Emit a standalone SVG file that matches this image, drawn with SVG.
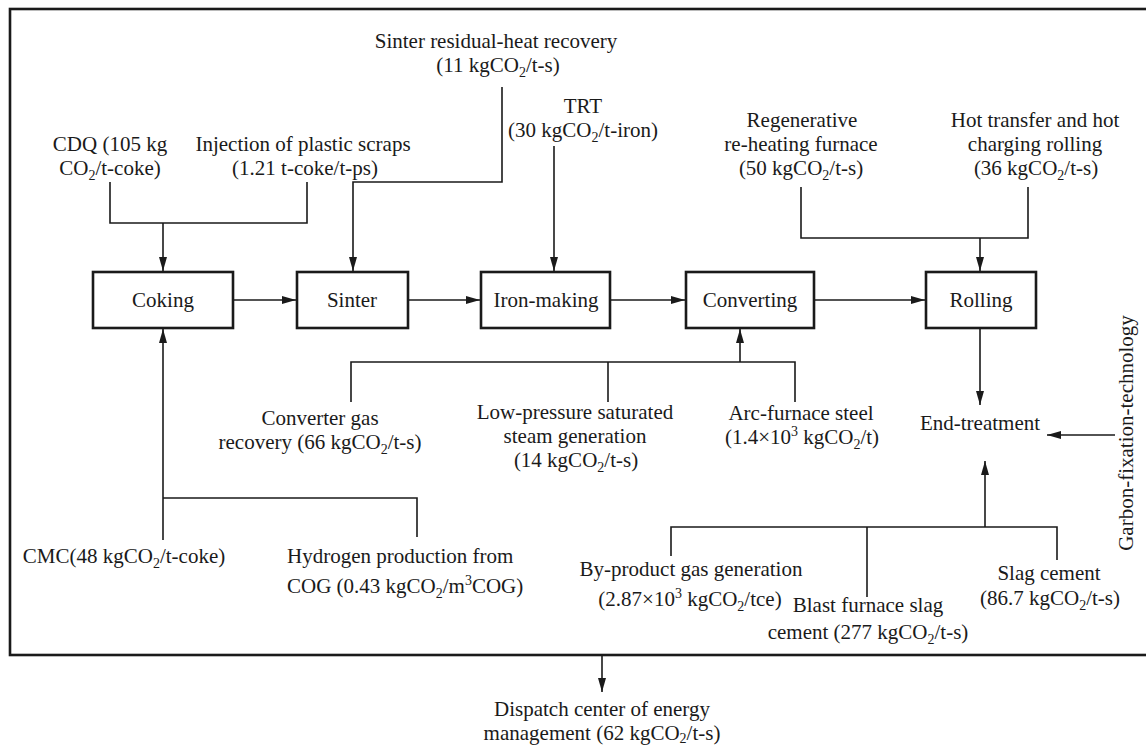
<svg xmlns="http://www.w3.org/2000/svg" width="1146" height="746" viewBox="0 0 1146 746">
<style>
text{font-family:"Liberation Serif","Times New Roman",serif;font-size:21px;fill:#1a1a1a}
.m{text-anchor:middle}
.s{font-size:14px}
.box{fill:#fff;stroke:#1a1a1a;stroke-width:2.6}
.frame{fill:none;stroke:#1a1a1a;stroke-width:2.6}
.ln{fill:none;stroke:#1a1a1a;stroke-width:1.6}
.ar{fill:none;stroke:#1a1a1a;stroke-width:1.6;marker-end:url(#ah)}
</style>
<defs>
<marker id="ah" viewBox="0 0 14 8" refX="14" refY="4" markerWidth="14" markerHeight="8" markerUnits="userSpaceOnUse" orient="auto">
<path d="M0,0 L14,4 L0,8 z" fill="#1a1a1a"/>
</marker>
</defs>
<rect width="1146" height="746" fill="#fff"/>
<rect class="frame" x="10" y="9" width="1140" height="646"/>

<g id="connectors">
<path class="ln" d="M110,182 V223 H307 V182"/>
<path class="ar" d="M163,223 V271"/>
<path class="ar" d="M502,87 V182 H353 V271"/>
<path class="ar" d="M554,146 V271"/>
<path class="ln" d="M801,187 V238 H1028 V187"/>
<path class="ar" d="M980,238 V271"/>
<path class="ar" d="M233,300 H296"/>
<path class="ar" d="M408,300 H480"/>
<path class="ar" d="M610,300 H685"/>
<path class="ar" d="M814,300 H925"/>
<path class="ln" d="M351,402 V362 H795 V402"/>
<path class="ln" d="M608,362 V402"/>
<path class="ar" d="M740,362 V329"/>
<path class="ar" d="M163,540 V329"/>
<path class="ln" d="M163,498 H417 V537"/>
<path class="ar" d="M980,328 V405"/>
<path class="ar" d="M1115,435 H1047"/>
<path class="ln" d="M671,556 V527 H1057 V560"/>
<path class="ln" d="M867,527 V597"/>
<path class="ar" d="M985,527 V461"/>
<path class="ar" d="M602,655 V692"/>
</g>

<g id="coking"><rect class="box" x="93" y="272" width="140" height="56"/><text class="m" x="163" y="307">Coking</text></g>
<g id="sinter"><rect class="box" x="297" y="272" width="111" height="56"/><text class="m" x="352" y="307">Sinter</text></g>
<g id="ironmaking"><rect class="box" x="481" y="272" width="129" height="56"/><text class="m" x="546" y="307">Iron-making</text></g>
<g id="converting"><rect class="box" x="686" y="272" width="128" height="56"/><text class="m" x="750" y="307">Converting</text></g>
<g id="rolling"><rect class="box" x="926" y="272" width="110" height="56"/><text class="m" x="981" y="307">Rolling</text></g>

<g id="cdq"><text class="m" x="110" y="151">CDQ (105 kg</text><text class="m" x="110" y="175">CO<tspan class="s" dy="5">2</tspan><tspan dy="-5">/t-coke)</tspan></text></g>
<g id="injection"><text class="m" x="303" y="151">Injection of plastic scraps</text><text class="m" x="305" y="175">(1.21 t-coke/t-ps)</text></g>
<g id="sinter-heat"><text class="m" x="496" y="48">Sinter residual-heat recovery</text><text class="m" x="498" y="72">(11 kgCO<tspan class="s" dy="5">2</tspan><tspan dy="-5">/t-s)</tspan></text></g>
<g id="trt"><text class="m" x="583" y="113">TRT</text><text class="m" x="583" y="137">(30 kgCO<tspan class="s" dy="5">2</tspan><tspan dy="-5">/t-iron)</tspan></text></g>
<g id="regen"><text class="m" x="802" y="127">Regenerative</text><text class="m" x="801" y="151">re-heating furnace</text><text class="m" x="801" y="175">(50 kgCO<tspan class="s" dy="5">2</tspan><tspan dy="-5">/t-s)</tspan></text></g>
<g id="hot-transfer"><text class="m" x="1035" y="127">Hot transfer and hot</text><text class="m" x="1035" y="151">charging rolling</text><text class="m" x="1036" y="175">(36 kgCO<tspan class="s" dy="5">2</tspan><tspan dy="-5">/t-s)</tspan></text></g>
<g id="converter-gas"><text class="m" x="320" y="425">Converter gas</text><text class="m" x="320" y="449">recovery (66 kgCO<tspan class="s" dy="5">2</tspan><tspan dy="-5">/t-s)</tspan></text></g>
<g id="low-pressure"><text class="m" x="575" y="419">Low-pressure saturated</text><text class="m" x="575" y="443">steam generation</text><text class="m" x="576" y="467">(14 kgCO<tspan class="s" dy="5">2</tspan><tspan dy="-5">/t-s)</tspan></text></g>
<g id="arc-furnace"><text class="m" x="801" y="420">Arc-furnace steel</text><text class="m" x="802" y="444">(1.4×10<tspan class="s" dy="-8">3</tspan><tspan dy="8"> kgCO</tspan><tspan class="s" dy="5">2</tspan><tspan dy="-5">/t)</tspan></text></g>
<g id="end-treatment"><text class="m" x="980" y="430">End-treatment</text></g>
<g id="garbon"><text class="m" transform="translate(1133,433) rotate(-90)">Garbon-fixation-technology</text></g>
<g id="cmc"><text class="m" x="124" y="563">CMC(48 kgCO<tspan class="s" dy="5">2</tspan><tspan dy="-5">/t-coke)</tspan></text></g>
<g id="hydrogen"><text x="287" y="563">Hydrogen production from</text><text x="287" y="593">COG (0.43 kgCO<tspan class="s" dy="5">2</tspan><tspan dy="-5">/m</tspan><tspan class="s" dy="-8">3</tspan><tspan dy="8">COG)</tspan></text></g>
<g id="by-product"><text class="m" x="691" y="576">By-product gas generation</text><text class="m" x="690" y="606">(2.87×10<tspan class="s" dy="-8">3</tspan><tspan dy="8"> kgCO</tspan><tspan class="s" dy="5">2</tspan><tspan dy="-5">/tce)</tspan></text></g>
<g id="blast-furnace"><text class="m" x="868" y="612">Blast furnace slag</text><text class="m" x="868" y="639">cement (277 kgCO<tspan class="s" dy="5">2</tspan><tspan dy="-5">/t-s)</tspan></text></g>
<g id="slag-cement"><text class="m" x="1049" y="580">Slag cement</text><text class="m" x="1050" y="605">(86.7 kgCO<tspan class="s" dy="5">2</tspan><tspan dy="-5">/t-s)</tspan></text></g>
<g id="dispatch"><text class="m" x="602" y="716">Dispatch center of energy</text><text class="m" x="602" y="740">management (62 kgCO<tspan class="s" dy="3">2</tspan><tspan dy="-3">/t-s)</tspan></text></g>
</svg>
